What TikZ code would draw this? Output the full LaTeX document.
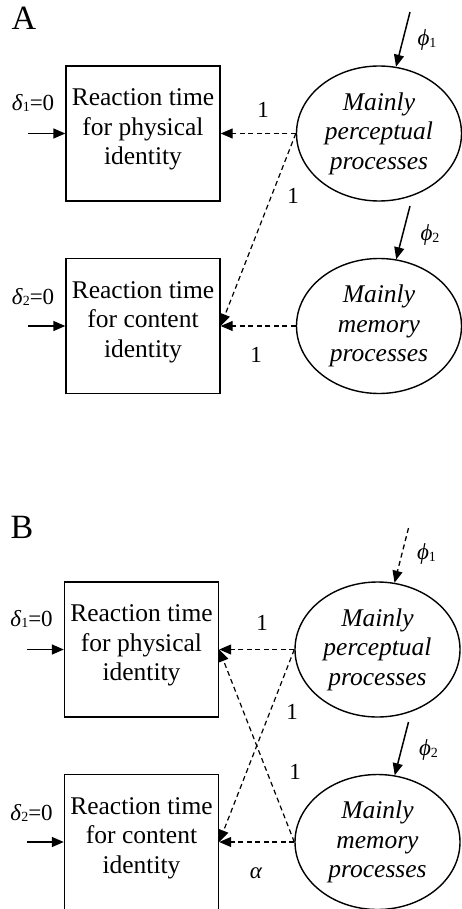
\documentclass[tikz,border=0pt]{standalone}
\usepackage{fontspec}
\setmainfont{Liberation Serif}
\usetikzlibrary{arrows.meta,shapes.geometric}
\newcommand\sbs[1]{\raisebox{-1.5pt}{\fontsize{14}{14}\selectfont #1}}
\begin{document}
\begin{tikzpicture}[x=1pt,y=-1pt,
  boxn/.style={draw, line width=1.4pt, minimum width=154pt, minimum height=135pt, inner sep=0pt},
  elln/.style={draw, ellipse, line width=1.4pt, minimum width=165pt, minimum height=135pt, inner sep=0pt, align=center, font=\fontsize{25.5}{29.5}\selectfont\itshape},
  txt/.style={align=center, font=\fontsize{25.5}{29.5}\selectfont, inner sep=0pt},
  lbl/.style={font=\fontsize{23}{27}\selectfont, inner sep=0pt},
  panel/.style={font=\fontsize{34}{38}\selectfont, inner sep=0pt},
  tipped/.style={-{Triangle[length=12pt,width=10pt]}},
  link/.style={tipped, dash pattern=on 5pt off 3.5pt, line width=1.2pt},
  solidarr/.style={tipped, line width=1.5pt}
]
\useasboundingbox (0,0) rectangle (462,909);

% ---------- Panel A ----------
\node[panel] (la) at (24,18) {A};
\node[boxn] (b1) at (143,133.5) {};
\node[txt] (t1) at ([yshift=4pt]b1.center) {Reaction time\\for physical\\identity};
\node[boxn] (b2) at (143,326) {};
\node[txt] (t2) at ([yshift=4pt]b2.center) {Reaction time\\for content\\identity};
\node[elln] (e1) at (379,133.5) {Mainly\\perceptual\\processes};
\node[elln] (e2) at (379,326) {Mainly\\memory\\processes};

\node[lbl] (d1) at (33,103) {\textit{δ}\sbs{1}=0};
\node[lbl] (d2) at (33,297) {\textit{δ}\sbs{2}=0};
\coordinate (da1) at (28,133.5);
\coordinate (da2) at (28,326);
\draw[solidarr] (da1) -- (b1.west);
\draw[solidarr] (da2) -- (b2.west);

\coordinate (p1) at (410,12);
\coordinate (p2) at (410,206);
\draw[solidarr] (p1) -- (e1);
\draw[solidarr] (p2) -- (e2);
\node[lbl] (f1) at (427,40) {\textit{ϕ}\sbs{1}};
\node[lbl] (f2) at (430,235) {\textit{ϕ}\sbs{2}};

\draw[link] (e1.west) -- (b1.east);
\draw[link] (e1.west) -- (b2.east);
\draw[link] (e2.west) -- (b2.east);
\node[lbl] (o1) at (263,110) {1};
\node[lbl] (o2) at (293,196) {1};
\node[lbl] (o3) at (256,355) {1};

% ---------- Panel B ----------
\node[panel] (lb) at (22,527) {B};
\begin{scope}[shift={(-1.5,516)}]
\node[boxn] (bb1) at (143,133.5) {};
\node[txt] (tt1) at ([yshift=4pt]bb1.center) {Reaction time\\for physical\\identity};
\node[boxn] (bb2) at (143,326) {};
\node[txt] (tt2) at ([yshift=4pt]bb2.center) {Reaction time\\for content\\identity};
\node[elln] (ee1) at (379,133.5) {Mainly\\perceptual\\processes};
\node[elln] (ee2) at (379,326) {Mainly\\memory\\processes};

\node[lbl] (dd1) at (33,103) {\textit{δ}\sbs{1}=0};
\node[lbl] (dd2) at (33,297) {\textit{δ}\sbs{2}=0};
\coordinate (dda1) at (28,133.5);
\coordinate (dda2) at (28,326);
\draw[solidarr] (dda1) -- (bb1.west);
\draw[solidarr] (dda2) -- (bb2.west);

\coordinate (q1) at (410,12);
\coordinate (q2) at (410,206);
\draw[link, line width=1.3pt] (q1) -- (ee1);
\draw[solidarr] (q2) -- (ee2);
\node[lbl] (ff1) at (428,38) {\textit{ϕ}\sbs{1}};
\node[lbl] (ff2) at (430,234) {\textit{ϕ}\sbs{2}};

\draw[link] (ee1.west) -- (bb1.east);
\draw[link] (ee1.west) -- (bb2.east);
\draw[link] (ee2.west) -- (bb1.east);
\draw[link] (ee2.west) -- (bb2.east);
\node[lbl] (oo1) at (263.5,107) {1};
\node[lbl] (oo2) at (293.5,196) {1};
\node[lbl] (oo3) at (296.5,256) {1};
\node[lbl] (oo4) at (257.5,357) {\textit{α}};
\end{scope}
\end{tikzpicture}
\end{document}
